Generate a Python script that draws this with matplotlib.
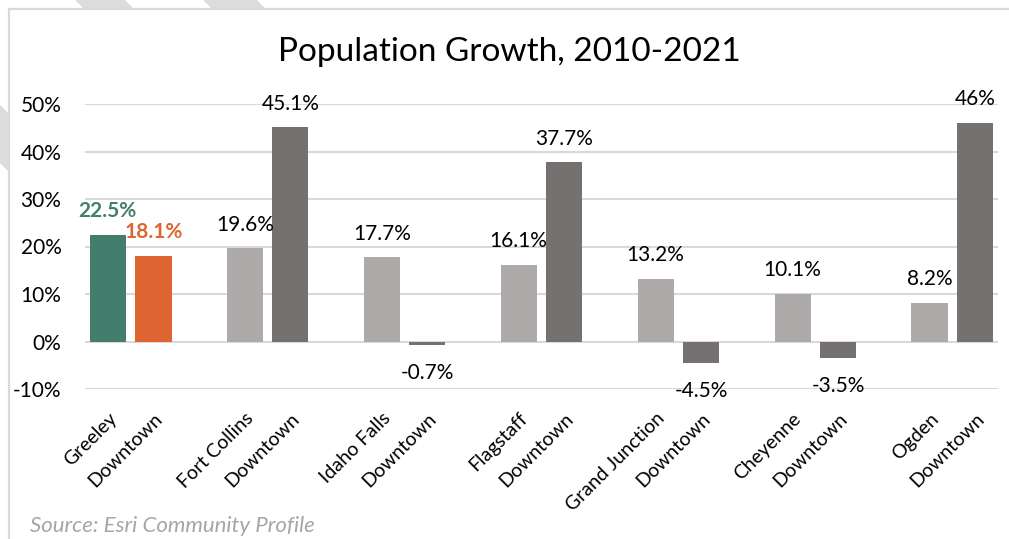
import matplotlib.pyplot as plt
from matplotlib.patches import Polygon, Rectangle

plt.rcParams["font.family"] = ["Lato", "DejaVu Sans"]

W, H = 1009, 539

cities = ["Greeley", "Fort Collins", "Idaho Falls", "Flagstaff",
          "Grand Junction", "Cheyenne", "Ogden"]
city_growth = [22.5, 19.6, 17.7, 16.1, 13.2, 10.1, 8.2]
downtown_growth = [18.1, 45.1, -0.7, 37.7, -4.5, -3.5, 46.0]
y_ticks = [-10, 0, 10, 20, 30, 40, 50]
y_tick_labels = ["-10%", "0%", "10%", "20%", "30%", "40%", "50%"]

GREEN = "#437D6C"
ORANGE = "#DE6531"
LIGHT = "#AEAAAA"
DARK = "#767171"
GRID = "#D9D9D9"


def px(x, y):
    return (x / W, 1 - y / H)


fig = plt.figure(figsize=(W / 100, H / 100), dpi=100)

# decorative diagonal stripes behind the chart frame (x - y = const bands)
for c0, c1 in [(75, 125), (203, 257), (-163, -105)]:
    pts = [px(c0, 0), px(c1, 0), px(c1 + 600, 600), px(c0 + 600, 600)]
    fig.patches.append(Polygon(pts, closed=True, transform=fig.transFigure,
                               facecolor="#DCDCDC", edgecolor="none", zorder=0))
fig.patches.append(Rectangle(px(9, 560), 1100 / W, 551 / H, transform=fig.transFigure,
                             facecolor="white", edgecolor=GRID, linewidth=1.6, zorder=1))

ax = fig.add_axes([85 / W, 1 - 389 / H, (998 - 85) / W, (389 - 104) / H])
ax.set_facecolor("none")
ax.set_zorder(2)

city_pos = [3 * i for i in range(len(cities))]
down_pos = [3 * i + 1 for i in range(len(cities))]
city_colors = [GREEN] + [LIGHT] * (len(cities) - 1)
down_colors = [ORANGE] + [DARK] * (len(cities) - 1)

ax.bar(city_pos, city_growth, width=0.79, color=city_colors, zorder=3)
ax.bar(down_pos, downtown_growth, width=0.79, color=down_colors, zorder=3)

for pos, val in zip(city_pos + down_pos, city_growth + downtown_growth):
    highlight = pos in (0, 1)
    color = (GREEN if pos == 0 else ORANGE) if highlight else "black"
    off = 17 if val >= 0 else -20
    ax.annotate(f"{val:g}%", (pos, val), xytext=(0, off), textcoords="offset points",
                ha="center", va="center", fontsize=15, color=color,
                fontweight="bold" if highlight else "normal", zorder=4)

ax.set_xlim(-0.5, 19.5)
ax.set_ylim(-10, 50)
ax.set_yticks(y_ticks)
ax.set_yticklabels(y_tick_labels, fontsize=15)
ax.yaxis.grid(True, color=GRID, linewidth=1.5, zorder=0)
ax.set_axisbelow(True)

ticks = []
labels = []
for pos, name in zip(city_pos, cities):
    ticks += [pos, pos + 1]
    labels += [name, "Downtown"]
ax.set_xticks(ticks)
ax.set_xticklabels(labels, rotation=45, ha="right", rotation_mode="anchor", fontsize=14)
ax.tick_params(axis="both", length=0)
ax.tick_params(axis="y", pad=17)
ax.tick_params(axis="x", pad=15)
for s in ax.spines.values():
    s.set_visible(False)

fig.text(0.505, 1 - 52 / H, "Population Growth, 2010-2021", ha="center", va="center",
         fontsize=24, zorder=3)
fig.text(30 / W, 1 - 526 / H, "Source: Esri Community Profile", ha="left", va="center",
         fontsize=16, style="italic", color="#A6A6A6", zorder=3)

fig.savefig("out.png", dpi=100)
